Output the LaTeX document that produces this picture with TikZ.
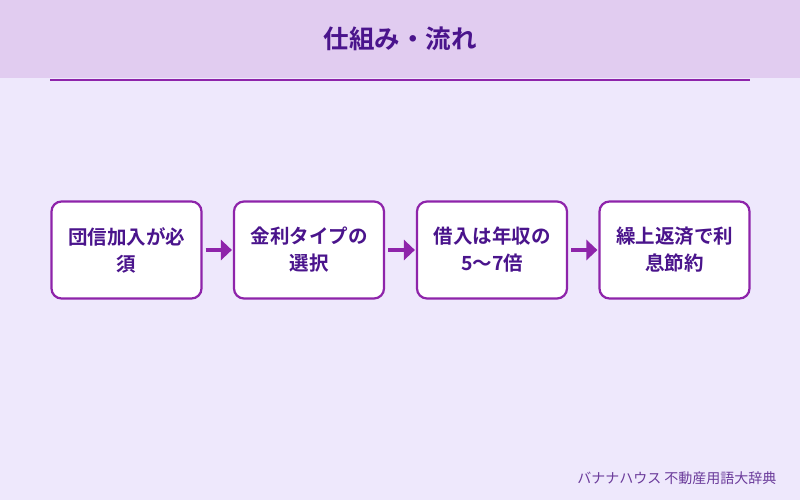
\documentclass[tikz,border=0pt]{standalone}
\usepackage{fontspec}
\newfontfamily\jp{Noto Sans CJK JP}
\newfontfamily\jpb{Noto Sans CJK JP Bold}
\usetikzlibrary{arrows.meta}
\definecolor{bg}{HTML}{EEE8FC}
\definecolor{band}{HTML}{E1CCF0}
\definecolor{accent}{HTML}{8E24AA}
\definecolor{dark}{HTML}{4A148C}
\definecolor{foot}{HTML}{6A3A9A}
\tikzset{
  stepbox/.style={draw=accent, line width=2.2pt, fill=white, rounded corners=10pt,
    minimum width=150pt, minimum height=97pt, align=center, text=dark,
    font=\jpb\fontsize{19.5}{27}\selectfont, inner sep=0pt},
  flowarrow/.style={draw=accent, line width=4.5pt, -{Triangle[length=11pt,width=20pt]}},
}
\begin{document}
\begin{tikzpicture}[x=1pt,y=-1pt]
\fill[bg] (0,0) rectangle (800,500);
\useasboundingbox (0,0) rectangle (800,500);
\fill[band] (0,0) rectangle (800,78);
\node[text=dark, font=\jpb\fontsize{25.5}{30}\selectfont] (title) at (400,39) {仕組み・流れ};
\coordinate (l1) at (50,80.5);
\coordinate (l2) at (750,80.5);
\draw[accent, line width=2pt] (l1) -- (l2);
\node[stepbox] (b1) at (126.5,250) {団信加入が必\\須};
\node[stepbox] (b2) at (309,250) {金利タイプの\\選択};
\node[stepbox] (b3) at (492,250) {借入は年収の\\5〜7倍};
\node[stepbox] (b4) at (674.5,250) {繰上返済で利\\息節約};
\draw[flowarrow] ([xshift=3pt]b1.east) -- ([xshift=-1pt]b2.west);
\draw[flowarrow] ([xshift=3pt]b2.east) -- ([xshift=-1pt]b3.west);
\draw[flowarrow] ([xshift=3pt]b3.east) -- ([xshift=-1pt]b4.west);
\node[anchor=east, text=foot, font=\jp\fontsize{14}{16}\selectfont] (footer) at (780,478) {バナナハウス 不動産用語大辞典};
\end{tikzpicture}
\end{document}
